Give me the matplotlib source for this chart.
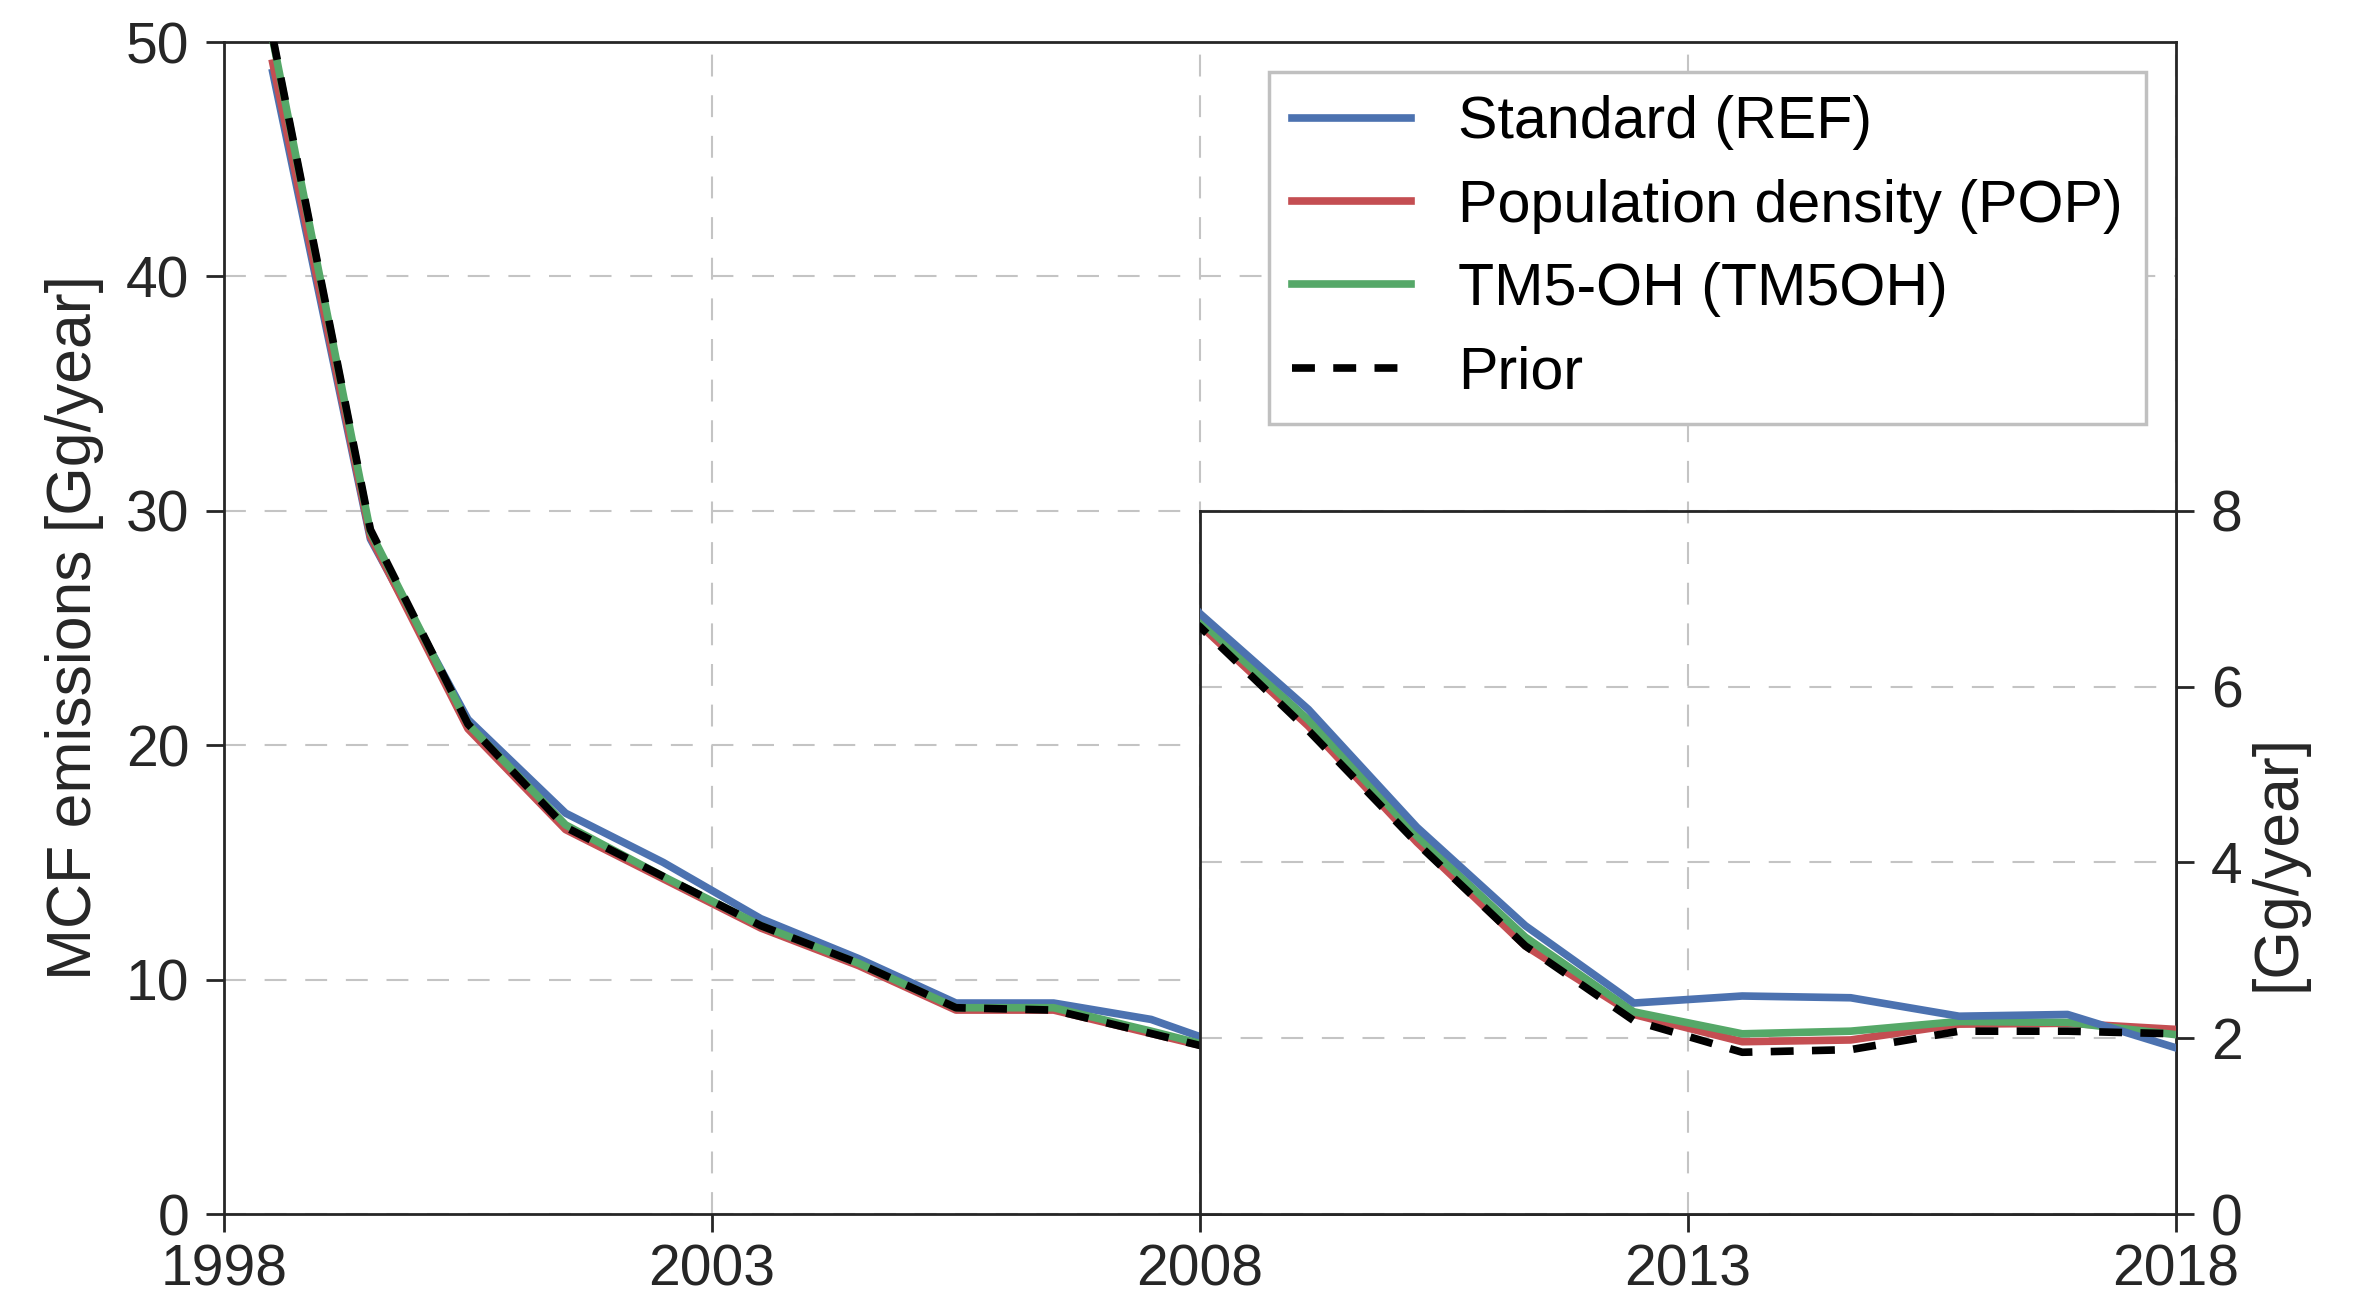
import matplotlib
matplotlib.use("Agg")
import matplotlib.pyplot as plt

plt.rcParams['font.family'] = ['Liberation Sans', 'DejaVu Sans']

# ---- data (Gg/year), values at mid-year ----
years = [1998.5, 1999.5, 2000.5, 2001.5, 2002.5, 2003.5, 2004.5, 2005.5, 2006.5, 2007.5,
         2008.5, 2009.5, 2010.5, 2011.5, 2012.5, 2013.5, 2014.5, 2015.5, 2016.5, 2017.5]
ref = [48.7, 28.8, 21.1, 17.1, 15.0, 12.6, 10.9, 9.0, 9.0, 8.3,
       6.83, 5.74, 4.40, 3.28, 2.40, 2.48, 2.46, 2.25, 2.27, 1.89]
pop = [49.1, 28.9, 20.7, 16.4, 14.3, 12.2, 10.6, 8.7, 8.7, 7.7,
       6.70, 5.55, 4.23, 3.05, 2.27, 1.96, 1.98, 2.16, 2.17, 2.10]
tm5oh = [50.1, 29.1, 20.9, 16.6, 14.4, 12.3, 10.7, 8.8, 8.8, 7.8,
         6.75, 5.62, 4.30, 3.15, 2.30, 2.05, 2.08, 2.19, 2.18, 2.04]
prior = [50.2, 29.2, 20.9, 16.5, 14.4, 12.3, 10.7, 8.8, 8.7, 7.7,
         6.68, 5.50, 4.22, 3.05, 2.20, 1.84, 1.87, 2.08, 2.08, 2.05]

labels = ['Standard (REF)', 'Population density (POP)', 'TM5-OH (TM5OH)', 'Prior']
main_xticks = [1998, 2003, 2008, 2013, 2018]
main_yticks = [0, 10, 20, 30, 40, 50]
inset_yticks = [0, 2, 4, 6, 8]

C_REF, C_POP, C_TM5, C_PRI = '#4C72B0', '#C44E52', '#55A868', 'black'
TXT = '#262626'
LW = 5.5
DASH = (0, (3.0, 2.4))
GRID = dict(color='#c4c4c4', linewidth=1.5, linestyle=(0, (10.5, 9)))
TICK_FS = 41

fig = plt.figure(figsize=(23.61, 12.97), dpi=100)
ax = fig.add_axes([224/2361, 83/1297, 1952/2361, 1172/1297])

h_ref, = ax.plot(years, ref, color=C_REF, lw=LW, label=labels[0], zorder=3)
h_pop, = ax.plot(years, pop, color=C_POP, lw=LW, label=labels[1], zorder=3)
h_tm5, = ax.plot(years, tm5oh, color=C_TM5, lw=LW, label=labels[2], zorder=3)
h_pri, = ax.plot(years, prior, color=C_PRI, lw=LW, linestyle=DASH, label=labels[3], zorder=3)

ax.set_xlim(1998, 2018)
ax.set_ylim(0, 50)
ax.set_xticks(main_xticks)
ax.set_yticks(main_yticks)
ax.grid(True, **GRID)
ax.set_axisbelow(True)
ax.tick_params(axis='both', direction='out', length=13, width=2, color=TXT,
               labelsize=TICK_FS, labelcolor=TXT, pad=12)
ax.tick_params(axis='x', pad=8)
for s in ax.spines.values():
    s.set_linewidth(2)
    s.set_color(TXT)
ax.set_ylabel('MCF emissions [Gg/year]', fontsize=45, color=TXT, labelpad=16)

leg = ax.legend(handles=[h_ref, h_pop, h_tm5, h_pri], loc='upper right', fontsize=42.6,
                frameon=True, fancybox=False, framealpha=1, edgecolor='#c0c0c0',
                labelspacing=0.48, handlelength=2.0, handletextpad=0.8, borderpad=0.4,
                borderaxespad=0.5)
leg.get_frame().set_linewidth(2.5)
leg.set_zorder(10)

# ---- inset (2008-2018) ----
axi = ax.inset_axes([0.5, 0.0, 0.5, 0.6])
axi.set_facecolor('white')
axi.plot(years, pop, color=C_POP, lw=LW, zorder=3)
axi.plot(years, tm5oh, color=C_TM5, lw=LW, zorder=3)
axi.plot(years, ref, color=C_REF, lw=LW, zorder=3)
axi.plot(years, prior, color=C_PRI, lw=LW, linestyle=DASH, zorder=3)
axi.set_xlim(2008.5, 2017.5)
axi.set_ylim(0, 8)
axi.set_xticks([2013])
axi.set_yticks(inset_yticks)
axi.grid(True, **GRID)
axi.set_axisbelow(True)
axi.tick_params(axis='x', length=0, labelbottom=False)
axi.yaxis.tick_right()
axi.yaxis.set_label_position('right')
axi.tick_params(axis='y', direction='out', length=13, width=2, color=TXT,
                labelsize=TICK_FS, labelcolor=TXT, pad=12)
for s in axi.spines.values():
    s.set_linewidth(2)
    s.set_color(TXT)
axi.set_ylabel('[Gg/year]', fontsize=45, color=TXT, labelpad=4)

fig.savefig('out.png', dpi=100, facecolor='white')
